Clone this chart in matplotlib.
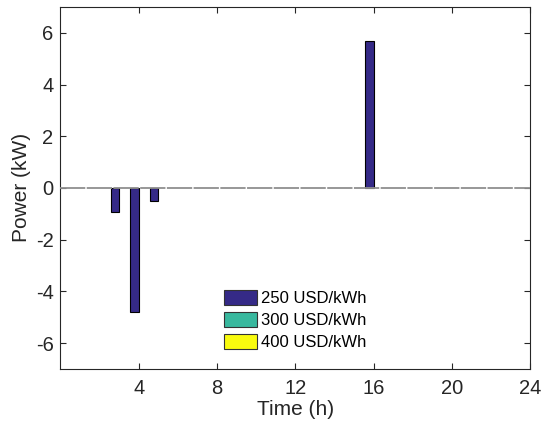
import numpy as np
import matplotlib
matplotlib.use("Agg")
import matplotlib.pyplot as plt

# Hourly battery power for three storage cost scenarios
hours = np.arange(1, 25)
series_labels = ["250 USD/kWh", "300 USD/kWh", "400 USD/kWh"]
power_250 = np.zeros(24)
power_250[[2, 3, 4, 15]] = [-0.94, -4.81, -0.52, 5.67]
power_300 = np.zeros(24)
power_400 = np.zeros(24)
series_values = [power_250, power_300, power_400]
series_colors = ["#352a87", "#38b89e", "#f9fb0e"]

x_ticks = [4, 8, 12, 16, 20, 24]
y_ticks = [-6, -4, -2, 0, 2, 4, 6]

plt.rcParams["font.family"] = ["Liberation Sans", "DejaVu Sans"]
plt.rcParams["axes.unicode_minus"] = False
ink = "#262626"

fig = plt.figure(figsize=(5.43, 4.34), dpi=100)
ax = fig.add_axes([0.1114, 0.150, 0.8652, 0.834])

n = len(series_values)
group_w = min(0.8, n / (n + 1.5))
offsets = [-group_w / 2 + (2 * i + 1) * group_w / (2 * n) for i in range(n)]
bar_w = 0.43

for vals, lab, col, off in zip(series_values, series_labels, series_colors, offsets):
    bc = ax.bar(hours + off, vals, width=bar_w, color=col, edgecolor="black",
                linewidth=0.8, label=lab, zorder=2)
    for p, v in zip(bc.patches, vals):
        if v == 0:
            p.set_linewidth(0)

ax.axhline(0, color="#8f8f8f", linewidth=1.3, linestyle=(0, (14, 0.8)), zorder=3)

ax.set_xlim(0, 24)
ax.set_ylim(-7, 7)
ax.set_xticks(x_ticks)
ax.set_yticks(y_ticks)
ax.tick_params(direction="in", top=True, right=True, length=4, width=0.8,
               colors=ink, labelsize=14.5)
ax.tick_params(axis="y", pad=5)
ax.tick_params(axis="x", pad=7)
for s in ax.spines.values():
    s.set_color(ink)
    s.set_linewidth(0.8)

ax.set_xlabel("Time (h)", fontsize=15, color=ink, labelpad=2)
ax.set_ylabel("Power (kW)", fontsize=15, color=ink, labelpad=3.5)

leg_handles = [plt.Rectangle((0, 0), 1, 1, facecolor=c, edgecolor="#333333", linewidth=0.8)
               for c in series_colors]
ax.legend(leg_handles, series_labels, loc="upper left",
          bbox_to_anchor=(224 / 543, 1 - 290 / 434), bbox_transform=fig.transFigure,
          frameon=False, fontsize=12, borderpad=0, handlelength=1.95,
          handleheight=1.0, handletextpad=0.25, labelspacing=0.35, borderaxespad=0)

fig.savefig("out.png", dpi=100)
